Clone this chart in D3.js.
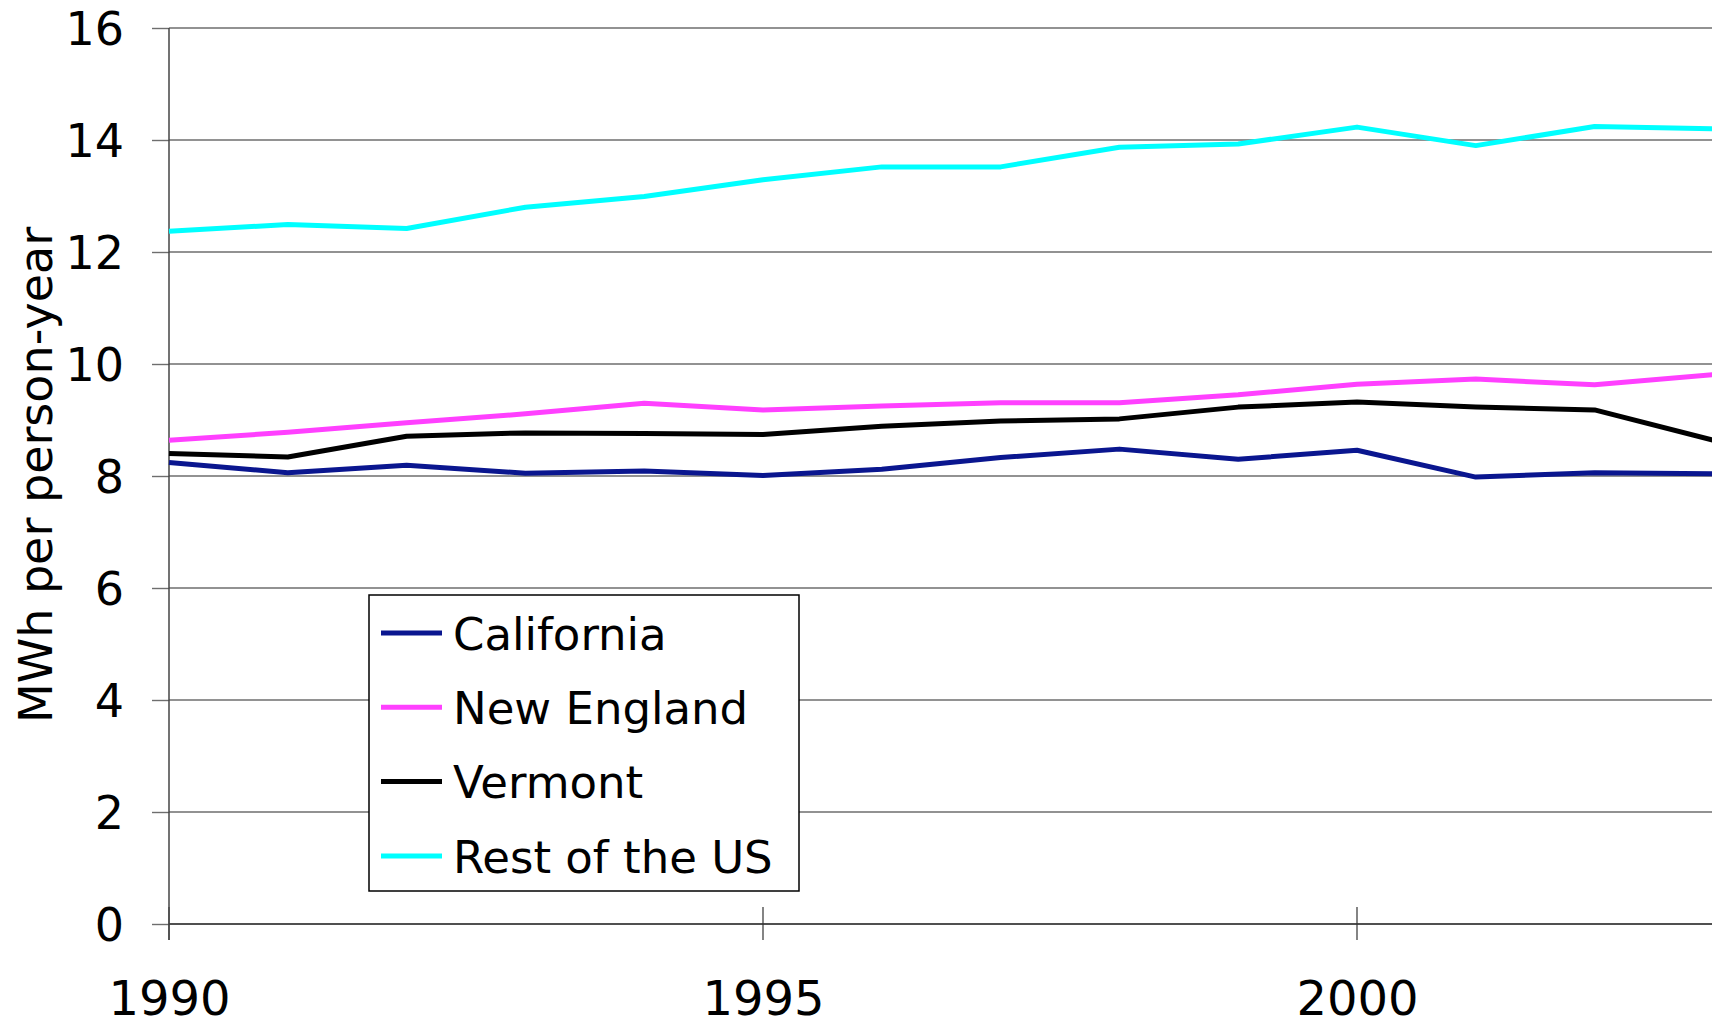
<!DOCTYPE html>
<html>
<head>
<meta charset="utf-8">
<script src="https://cdn.jsdelivr.net/npm/d3@7"></script>
<style>
    body { margin: 0; background: #fff; overflow: hidden; }
    text { font-family: "DejaVu Sans", Verdana, sans-serif; fill: #000; }
</style>
</head>
<body>
<div id="chart"></div>
<script>
// values, MWh per person-year
const years = [1990, 1991, 1992, 1993, 1994, 1995, 1996, 1997, 1998, 1999, 2000, 2001, 2002, 2003];
const california = [8.24, 8.06, 8.19, 8.05, 8.09, 8.01, 8.12, 8.33, 8.48, 8.30, 8.46, 7.98, 8.06, 8.04];
const newEngland = [8.64, 8.78, 8.95, 9.11, 9.30, 9.18, 9.25, 9.31, 9.31, 9.45, 9.64, 9.73, 9.63, 9.81];
const vermont = [8.40, 8.34, 8.71, 8.77, 8.76, 8.74, 8.89, 8.98, 9.02, 9.23, 9.32, 9.23, 9.18, 8.64];
const restOfUS = [12.37, 12.49, 12.42, 12.80, 12.99, 13.29, 13.52, 13.52, 13.87, 13.93, 14.23, 13.90, 14.24, 14.20];

const seriesNames = ["California", "New England", "Vermont", "Rest of the US"];
const seriesColors = ["#0a168f", "#ff40ff", "#000000", "#00ffff"];

const yTicks = [0, 2, 4, 6, 8, 10, 12, 14, 16];
const xTicks = [1990, 1995, 2000];

class LineVis {
    constructor(_parentElement) {
        this.parentElement = _parentElement;
        this.series = [california, newEngland, vermont, restOfUS];
        this.initVis();
    }

    initVis() {
        let vis = this;

        vis.width = 1712;
        vis.height = 1026;
        vis.left = 169;

        vis.svg = d3.select("#" + vis.parentElement).append("svg")
            .attr("width", vis.width)
            .attr("height", vis.height);

        vis.x = d3.scaleLinear().domain([1990, 2000]).range([vis.left, 1357]);
        vis.y = d3.scaleLinear().domain([0, 16]).range([924, 28]);

        vis.updateVis();
    }

    updateVis() {
        let vis = this;

        // horizontal grid
        vis.svg.append("g").selectAll("line")
            .data(yTicks)
            .enter().append("line")
            .attr("x1", vis.left)
            .attr("x2", vis.width)
            .attr("y1", d => vis.y(d))
            .attr("y2", d => vis.y(d))
            .style("stroke", d => d === 0 ? "#505050" : "#6e6e6e")
            .style("stroke-width", d => d === 0 ? 2 : 1.4);

        // y axis labels + little ticks on the left
        let yAxis = vis.svg.append("g")
            .attr("transform", "translate(" + vis.left + ",0)")
            .call(d3.axisLeft(vis.y).tickValues(yTicks).tickSize(17).tickPadding(28));
        yAxis.select(".domain").remove();
        yAxis.selectAll(".tick line").style("stroke", "#6e6e6e").style("stroke-width", 1.4);
        yAxis.selectAll("text")
            .style("font-size", "46px")
            .attr("dy", "0.36em");

        // x axis labels, ticks drawn across the base line
        let xAxis = vis.svg.append("g")
            .attr("transform", "translate(0,924)")
            .call(d3.axisBottom(vis.x).tickValues(xTicks).tickSize(0).tickPadding(57).tickFormat(d3.format("d")));
        xAxis.select(".domain").remove();
        xAxis.selectAll("text").style("font-size", "48px");

        vis.svg.append("g").selectAll("line")
            .data(xTicks)
            .enter().append("line")
            .attr("x1", d => vis.x(d))
            .attr("x2", d => vis.x(d))
            .attr("y1", 907)
            .attr("y2", 940)
            .style("stroke", "#333")
            .style("stroke-width", 1.2);

        // vertical axis line
        vis.svg.append("line")
            .attr("x1", vis.left).attr("x2", vis.left)
            .attr("y1", vis.y(16)).attr("y2", 940)
            .style("stroke", "#444")
            .style("stroke-width", 1.5);

        vis.svg.append("text")
            .attr("transform", "translate(52," + 475 + ") rotate(-90)")
            .attr("text-anchor", "middle")
            .style("font-size", "46px")
            .text("MWh per person-year");

        // the lines
        let line = d3.line()
            .x((d, i) => vis.x(years[i]))
            .y(d => vis.y(d));

        vis.series.forEach(function(values, i) {
            vis.svg.append("path")
                .datum(values)
                .attr("d", line)
                .style("fill", "none")
                .style("stroke", seriesColors[i])
                .style("stroke-width", 5)
                .style("stroke-linejoin", "round");
        });

        // legend box
        let legend = vis.svg.append("g")
            .attr("transform", "translate(369,595)");

        legend.append("rect")
            .attr("width", 430)
            .attr("height", 296)
            .style("fill", "#fff")
            .style("stroke", "#000")
            .style("stroke-width", 1.5);

        seriesNames.forEach(function(name, i) {
            let rowY = 38 + i * 74.3;
            legend.append("line")
                .attr("x1", 12).attr("x2", 73)
                .attr("y1", rowY).attr("y2", rowY)
                .style("stroke", seriesColors[i])
                .style("stroke-width", 5);
            legend.append("text")
                .attr("x", 84)
                .attr("y", rowY)
                .attr("dy", "0.37em")
                .style("font-size", "45px")
                .text(name);
        });
    }
}

new LineVis("chart");
</script>
</body>
</html>
